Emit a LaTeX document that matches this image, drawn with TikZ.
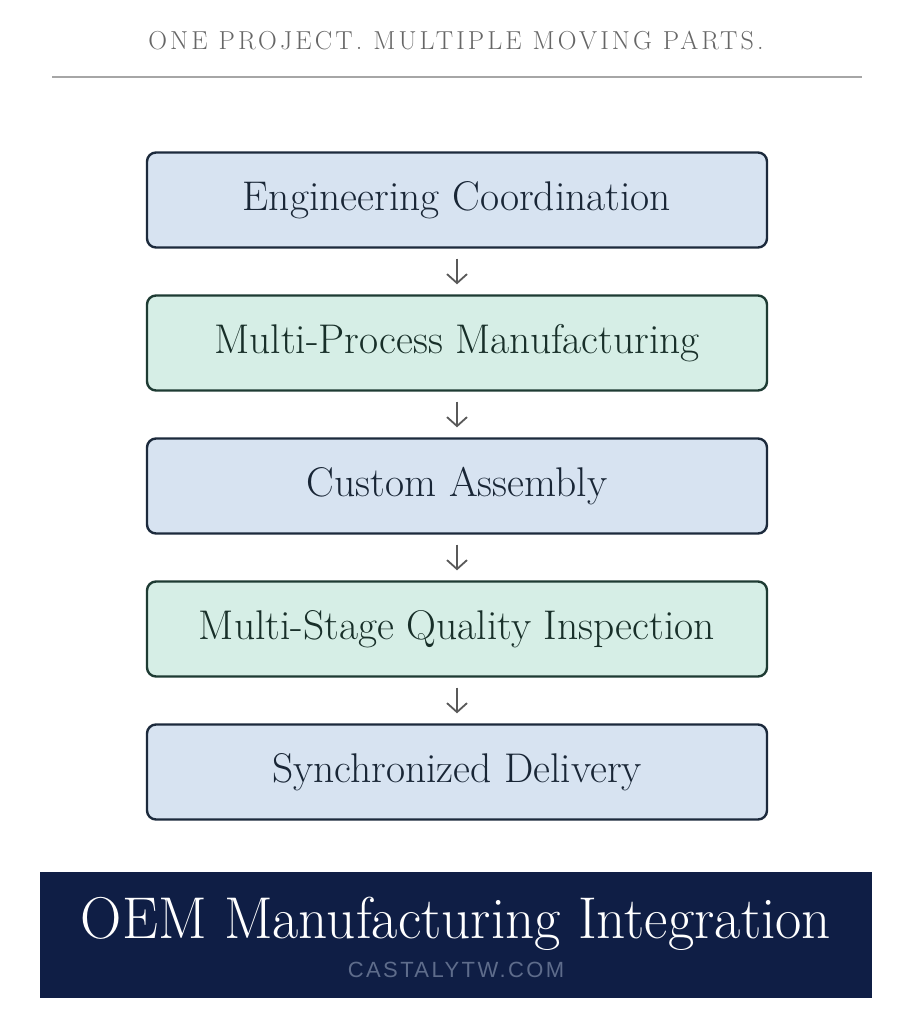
\documentclass[tikz,border=0pt]{standalone}
\usepackage{fontspec}
\usetikzlibrary{arrows.meta}
\definecolor{boxblue}{HTML}{D7E3F1}
\definecolor{boxgreen}{HTML}{D6EEE6}
\definecolor{edgeblue}{HTML}{1C2A3C}
\definecolor{edgegreen}{HTML}{1E3B33}
\definecolor{navy}{HTML}{0F1E45}
\definecolor{urlgray}{HTML}{5E6C8B}
\definecolor{titlegray}{HTML}{666666}
\newfontfamily\urlfont[LetterSpace=11]{Liberation Sans}
\newfontfamily\spacedfont[LetterSpace=12]{Latin Modern Roman}
\begin{document}
\begin{tikzpicture}[x=1pt,y=-1pt,
  stepbox/.style={draw, line width=2.4pt, rounded corners=9pt, minimum width=620pt, minimum height=95pt, inner sep=0pt, font=\fontsize{41.5}{48}\selectfont},
  bluebox/.style={stepbox, fill=boxblue, draw=edgeblue, text=edgeblue!90!black},
  greenbox/.style={stepbox, fill=boxgreen, draw=edgegreen, text=edgegreen!80!black},
  flow/.style={draw=black!65, line width=1.8pt, -{Straight Barb[length=9pt,width=20pt,line width=1.8pt]}, shorten <=10pt, shorten >=10pt}
]
\useasboundingbox (0,0) rectangle (913,1024);
\fill[white] (0,0) rectangle (913,1024);

\node[text=titlegray, font=\spacedfont\fontsize{26}{30}\selectfont, anchor=base] (title) at (456,50) {ONE PROJECT. MULTIPLE MOVING PARTS.};
\coordinate (ruleL) at (52,77);
\coordinate (ruleR) at (862,77);
\draw[black!35, line width=1.2pt] (ruleL) -- (ruleR);

\node[bluebox]  (b1) at (457,200) {Engineering Coordination};
\node[greenbox] (b2) at (457,343) {Multi-Process Manufacturing};
\node[bluebox]  (b3) at (457,486) {Custom Assembly};
\node[greenbox] (b4) at (457,629) {Multi-Stage Quality Inspection};
\node[bluebox]  (b5) at (457,772) {Synchronized Delivery};

\draw[flow] (b1.south) -- (b2.north);
\draw[flow] (b2.south) -- (b3.north);
\draw[flow] (b3.south) -- (b4.north);
\draw[flow] (b4.south) -- (b5.north);

\node[fill=navy, minimum width=832pt, minimum height=126pt, inner sep=0pt] (banner) at (456,935) {};
\node[text=white, font=\fontsize{59}{64}\selectfont, xscale=0.97, anchor=base] (bantitle) at (456,938) {OEM Manufacturing Integration};
\node[text=urlgray, font=\urlfont\fontsize{22}{26}\selectfont, anchor=base] (url) at (456,977) {CASTALYTW.COM};
\end{tikzpicture}
\end{document}
